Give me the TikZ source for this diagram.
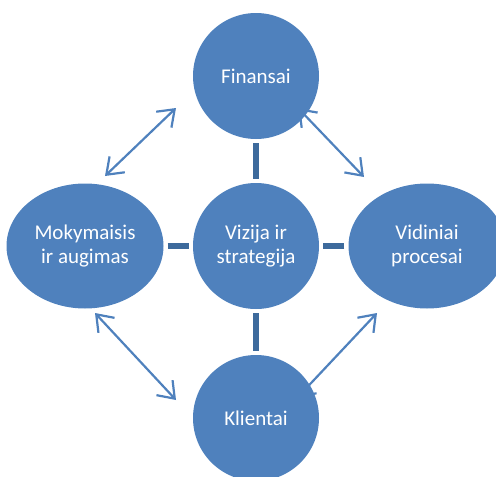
\documentclass[tikz,border=0pt]{standalone}
\usepackage{fontspec}
\setmainfont{Carlito}
\usetikzlibrary{shapes.geometric,arrows.meta}
\definecolor{bscblue}{HTML}{4F81BD}
\definecolor{bscdark}{HTML}{3D6A9C}
\begin{document}
\begin{tikzpicture}[x=1pt,y=-1pt] % pixel units, y down
\tikzstyle{persp} = [circle, fill=bscblue, minimum size=126pt, inner sep=0pt, text=white, font=\fontsize{21}{24}\selectfont, align=center] % perspective node style
\tikzstyle{perspwide} = [persp, ellipse, minimum width=157pt, minimum height=125pt] % wide perspective
\tikzstyle{bar} = [bscdark, line width=6pt, shorten <=4pt, shorten >=4pt] % link to the centre
\tikzstyle{link} = [bscblue, line width=2.2pt, {Straight Barb[length=15pt,width=22pt]}-{Straight Barb[length=15pt,width=22pt]}] % two-way arrow
\useasboundingbox (0,0) rectangle (496,477);

\node[persp] (viz) at (256,246) {Vizija ir\\strategija}; % centre
\node[persp] (fin) at (256,76) {Finansai};
\node[persp] (kli) at (256,418) {Klientai};
\node[perspwide] (mok) at (85,246) {Mokymaisis\\ir augimas};
\node[perspwide] (vid) at (427,246) {Vidiniai\\procesai};

\draw[bar] (fin) -- (viz);
\draw[bar] (kli) -- (viz);
\draw[bar] (mok) -- (viz);
\draw[bar] (vid) -- (viz);

% free ends of the arrows
\coordinate (mf1) at (105,176); \coordinate (mf2) at (176,108);
\coordinate (fv1) at (298,108); \coordinate (fv2) at (364,177);
\coordinate (mk1) at (95,313);  \coordinate (mk2) at (176,400);
\coordinate (kv1) at (297,398); \coordinate (kv2) at (377,313);

\draw[link] (mf1) -- (mf2);
\draw[link] (fv1) -- (fv2);
\draw[link] (mk1) -- (mk2);
\draw[link] (kv1) -- (kv2);
\end{tikzpicture}
\end{document}
